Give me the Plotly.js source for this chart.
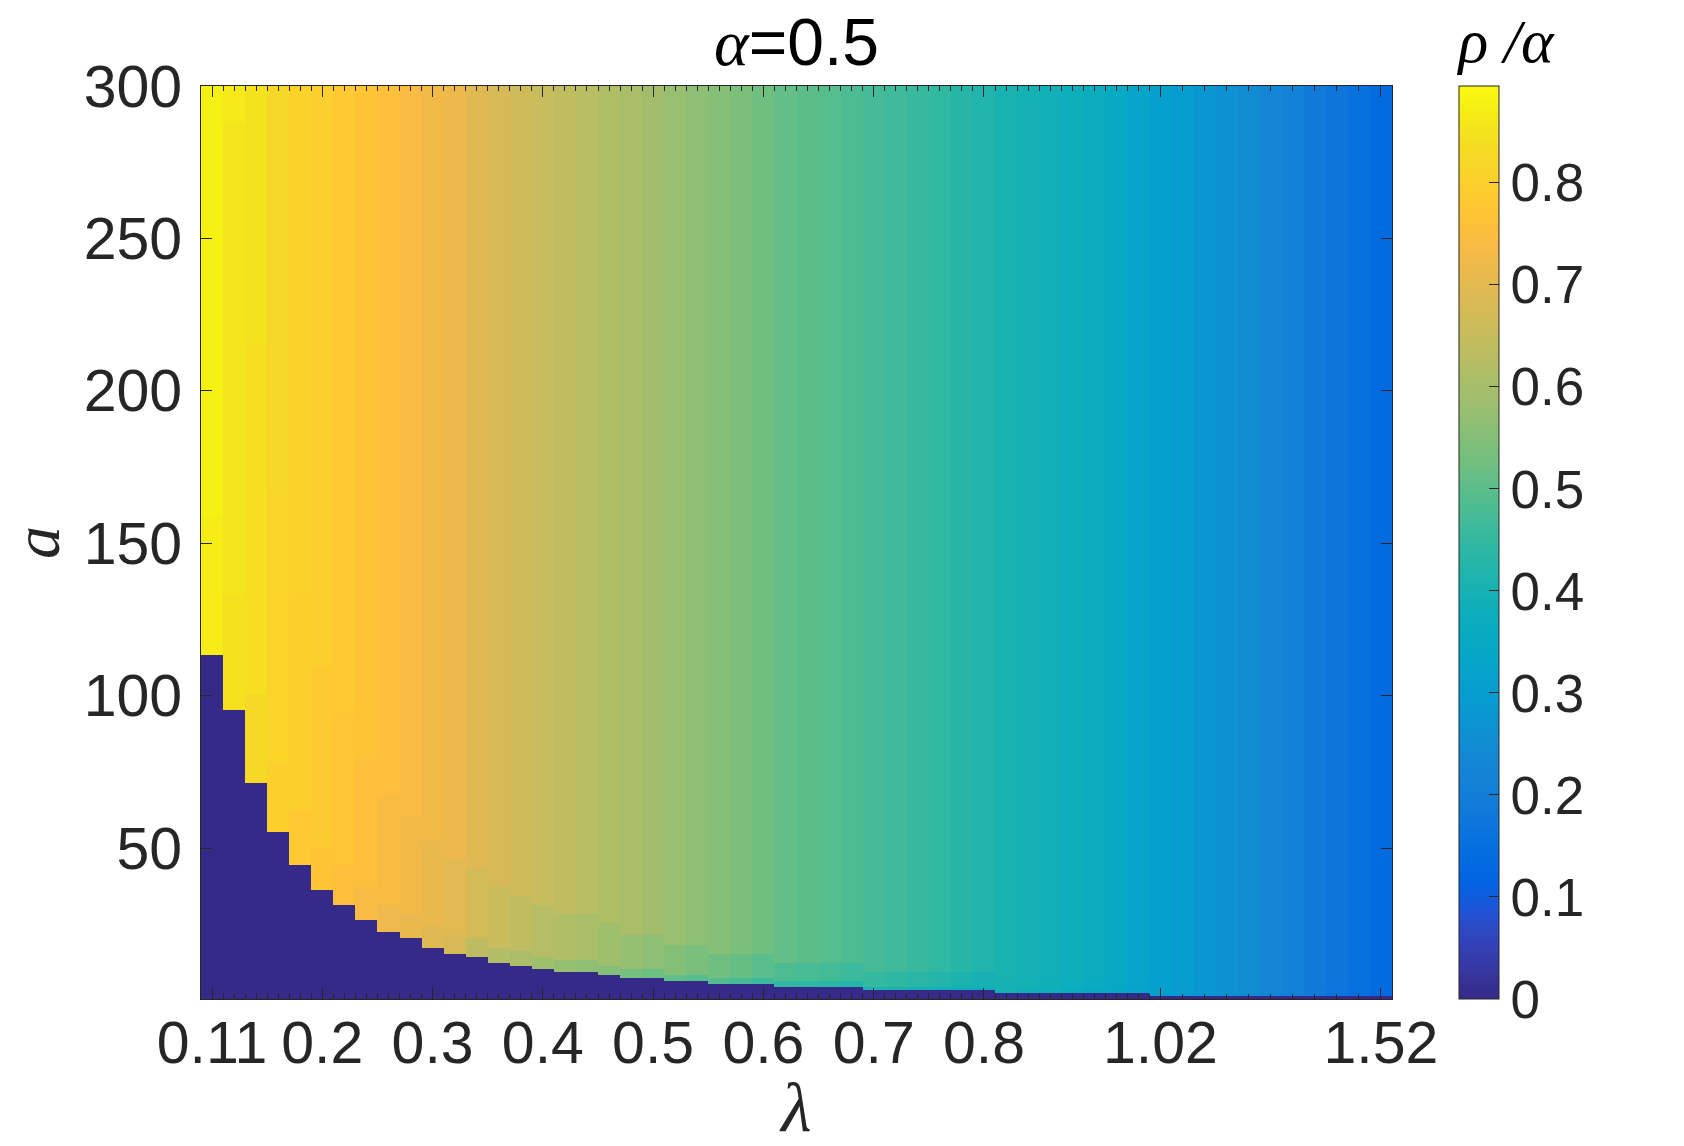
<!DOCTYPE html>
<html>
<head>
<meta charset="utf-8">
<script src="https://cdn.plot.ly/plotly-3.0.1.min.js"></script>
<style>html,body{margin:0;padding:0;background:#fff;}#chart{width:1684px;height:1146px;}</style>
</head>
<body>
<div id="chart"></div>
<script>
// ---- data ----
// lambda grid is drawn by column index; labelled columns:
const lambdaTickCols   = [1, 6, 11, 16, 21, 26, 31, 36, 44, 54];
const lambdaTickLabels = ['0.11','0.2','0.3','0.4','0.5','0.6','0.7','0.8','1.02','1.52'];
const aTicks = [50, 100, 150, 200, 250, 300];
const cbTicks = [0, 0.1, 0.2, 0.3, 0.4, 0.5, 0.6, 0.7, 0.8];
const cbTickLabels = ['0','0.1','0.2','0.3','0.4','0.5','0.6','0.7','0.8'];

// critical a per column (below it rho/alpha = 0)
const aCrit = [113.1, 95.7, 71.8, 55.8, 44.6, 36.4, 31.5, 26.6, 22.4, 20.2,
               17.4, 15.4, 14.4, 12.6, 11.5, 10.5, 9.5, 9.5, 8.4, 7.2,
               7.2, 6.2, 6.2, 5.2, 5.2, 5.2, 4.3, 4.3, 4.3, 4.3,
               3.3, 3.3, 3.3, 3.3, 3.3, 3.3,
               2.3, 2.3, 2.3, 2.3, 2.3, 2.3, 2.3,
               1.3, 1.3, 1.3, 1.3, 1.3, 1.3, 1.3, 1.3, 1.3, 1.3, 1.3];
// rho/alpha far above the critical a
const rhoTop = [0.890, 0.862, 0.848, 0.822, 0.808, 0.797, 0.783, 0.769, 0.755, 0.741,
                0.727, 0.717, 0.695, 0.679, 0.664, 0.651, 0.639, 0.628, 0.614, 0.602,
                0.592, 0.578, 0.565, 0.552, 0.539, 0.524, 0.510, 0.501, 0.494, 0.484,
                0.474, 0.464, 0.455, 0.444, 0.429, 0.417,
                0.407, 0.398, 0.389, 0.381, 0.370, 0.353, 0.332,
                0.314, 0.298, 0.280, 0.264, 0.250, 0.228, 0.210, 0.190, 0.171, 0.156, 0.137];
// rho/alpha in the band somewhat above the critical a
const rhoMid = [0.878, 0.855, 0.840, 0.814, 0.798, 0.786, 0.772, 0.756, 0.742, 0.727,
                0.712, 0.700, 0.671, 0.655, 0.640, 0.625, 0.613, 0.602, 0.588, 0.574,
                0.564, 0.550, 0.537, 0.526, 0.513, 0.498, 0.484, 0.477, 0.470, 0.460,
                0.450, 0.442, 0.433, 0.424, 0.411, 0.401,
                0.401, 0.392, 0.383, 0.375, 0.364, 0.347, 0.326,
                0.310, 0.294, 0.276, 0.260, 0.246, 0.224, 0.206, 0.186, 0.167, 0.152, 0.133];
// rho/alpha just above the critical a
const rhoNear = [0.868, 0.845, 0.825, 0.800, 0.783, 0.770, 0.755, 0.738, 0.722, 0.706,
                 0.690, 0.675, 0.635, 0.619, 0.604, 0.586, 0.574, 0.563, 0.549, 0.532,
                 0.522, 0.508, 0.495, 0.487, 0.474, 0.459, 0.445, 0.441, 0.434, 0.424,
                 0.414, 0.409, 0.400, 0.394, 0.384, 0.377,
                 0.392, 0.383, 0.374, 0.366, 0.355, 0.338, 0.317,
                 0.304, 0.288, 0.270, 0.254, 0.240, 0.218, 0.200, 0.180, 0.161, 0.146, 0.127];

// ---- parula colormap (64 entries) ----
const parula = [[0.2081,0.1663,0.5292],[0.2116,0.1898,0.5777],[0.2123,0.2138,0.6270],[0.2081,0.2386,0.6771],
[0.1959,0.2645,0.7279],[0.1707,0.2919,0.7792],[0.1253,0.3242,0.8303],[0.0591,0.3598,0.8683],
[0.0117,0.3875,0.8820],[0.0060,0.4086,0.8828],[0.0165,0.4266,0.8786],[0.0329,0.4430,0.8720],
[0.0498,0.4586,0.8641],[0.0629,0.4737,0.8554],[0.0723,0.4887,0.8467],[0.0779,0.5040,0.8384],
[0.0793,0.5200,0.8312],[0.0749,0.5375,0.8263],[0.0641,0.5570,0.8240],[0.0488,0.5772,0.8228],
[0.0343,0.5966,0.8199],[0.0265,0.6137,0.8135],[0.0239,0.6287,0.8038],[0.0231,0.6418,0.7913],
[0.0228,0.6535,0.7768],[0.0267,0.6642,0.7607],[0.0384,0.6743,0.7436],[0.0590,0.6838,0.7254],
[0.0843,0.6928,0.7062],[0.1133,0.7015,0.6859],[0.1453,0.7098,0.6646],[0.1801,0.7177,0.6424],
[0.2178,0.7250,0.6193],[0.2586,0.7317,0.5954],[0.3022,0.7376,0.5712],[0.3482,0.7424,0.5473],
[0.3953,0.7459,0.5244],[0.4420,0.7481,0.5033],[0.4871,0.7491,0.4840],[0.5300,0.7491,0.4661],
[0.5709,0.7485,0.4494],[0.6099,0.7473,0.4337],[0.6473,0.7456,0.4188],[0.6834,0.7435,0.4044],
[0.7184,0.7411,0.3905],[0.7525,0.7384,0.3768],[0.7858,0.7356,0.3633],[0.8185,0.7327,0.3498],
[0.8507,0.7299,0.3360],[0.8824,0.7274,0.3217],[0.9139,0.7258,0.3063],[0.9450,0.7261,0.2886],
[0.9739,0.7314,0.2666],[0.9938,0.7455,0.2403],[0.9990,0.7653,0.2164],[0.9955,0.7861,0.1967],
[0.9880,0.8066,0.1794],[0.9789,0.8271,0.1633],[0.9697,0.8481,0.1475],[0.9626,0.8705,0.1309],
[0.9589,0.8949,0.1132],[0.9598,0.9218,0.0948],[0.9661,0.9514,0.0755],[0.9763,0.9831,0.0538]];
const colorscale = parula.map((c, i) => [i / (parula.length - 1),
  'rgb(' + c.map(v => Math.round(v * 255)).join(',') + ')']);

// ---- build the cell table ----
const nCols = aCrit.length;
const colIdx = Array.from({length: nCols}, (_, j) => j + 1);
const aGrid = Array.from({length: 300}, (_, i) => i + 1);
const z = aGrid.map(a => colIdx.map((c, j) => {
  if (a < aCrit[j]) return 0;
  if (a < 1.4 * aCrit[j]) return rhoNear[j];
  if (a < 3 * aCrit[j]) return rhoMid[j];
  return rhoTop[j];
}));

// minor ticks: half-column steps up to column 44, whole columns after
const minorVals = [];
for (let v = 1; v <= 44; v += 0.5) if (!lambdaTickCols.includes(v)) minorVals.push(v);
for (let v = 45; v <= 54; v += 1) if (!lambdaTickCols.includes(v)) minorVals.push(v);

const axCol = '#262626';
const plotH = 1146 - 86 - 147;
const trace = {
  type: 'heatmap', x: colIdx, y: aGrid, z: z,
  zmin: 0, zmax: 0.895, colorscale: colorscale, zsmooth: false,
  hoverinfo: 'skip',
  colorbar: {
    x: 1.0563, xanchor: 'left', xref: 'paper', xpad: 0, ypad: 0,
    y: 0, yanchor: 'bottom', len: plotH + 78, lenmode: 'pixels',
    thickness: 40, thicknessmode: 'pixels',
    outlinewidth: 1, outlinecolor: axCol,
    ticks: 'inside', ticklen: 10, tickwidth: 1, tickcolor: axCol,
    tickmode: 'array', tickvals: cbTicks, ticktext: cbTickLabels,
    tickfont: {family: 'Liberation Sans, Arial, sans-serif', size: 53, color: axCol},
    title: {text: '<i>ρ /α</i>', side: 'top',
            font: {family: 'Liberation Serif, Times New Roman, serif', size: 62, color: '#000'}}
  }
};

const layout = {
  width: 1684, height: 1146,
  margin: {l: 201, r: 292, t: 86, b: 147},
  paper_bgcolor: '#fff', plot_bgcolor: '#fff',
  title: {
    text: '<span style="font-family:Liberation Serif"><i>α</i></span>=0.5',
    font: {family: 'Liberation Sans, Arial, sans-serif', size: 66, color: '#000'},
    x: 0.5, xref: 'paper', xanchor: 'center',
    y: 1 - 42 / 1146, yref: 'container', yanchor: 'middle'
  },
  xaxis: {
    range: [0.5, 54.5], tickmode: 'array', tickvals: lambdaTickCols, ticktext: lambdaTickLabels,
    ticks: 'inside', ticklen: 11, tickwidth: 1, tickcolor: axCol, ticklabelstandoff: -8,
    minor: {tickmode: 'array', tickvals: minorVals, ticks: 'inside', ticklen: 5, tickwidth: 1, tickcolor: axCol, showgrid: false},
    showline: true, linecolor: axCol, linewidth: 1, mirror: 'ticks',
    showgrid: false, zeroline: false,
    tickfont: {family: 'Liberation Sans, Arial, sans-serif', size: 59, color: axCol},
    title: {text: '<i>λ</i>', standoff: 10,
            font: {family: 'Liberation Serif, Times New Roman, serif', size: 70, color: axCol}}
  },
  yaxis: {
    range: [0.5, 300], tickmode: 'array', tickvals: aTicks,
    ticks: 'inside', ticklen: 11, tickwidth: 1, tickcolor: axCol, ticklabelstandoff: 6,
    showline: true, linecolor: axCol, linewidth: 1, mirror: 'ticks',
    showgrid: false, zeroline: false,
    tickfont: {family: 'Liberation Sans, Arial, sans-serif', size: 59, color: axCol},
    title: {text: '<i>a</i>', standoff: 18,
            font: {family: 'Liberation Serif, Times New Roman, serif', size: 66, color: axCol}}
  },
  showlegend: false
};

const gd = document.getElementById('chart');
Plotly.newPlot(gd, [trace], layout, {staticPlot: true, displayModeBar: false}).then(() => {
  // make the colour bar itself span exactly the plot height (title sits above it)
  const bar = gd.querySelector('.colorbar .cbfill') || gd.querySelector('.colorbar rect.cbbg');
  if (bar) {
    const b = bar.getBoundingClientRect();
    const topWanted = 86, botWanted = 86 + plotH;
    const extra = (b.top - topWanted) + (botWanted - b.bottom);
    if (Math.abs(extra) > 0.5) {
      return Plotly.restyle(gd, {'colorbar.len': plotH + 78 + extra}, [0]);
    }
  }
});
</script>
</body>
</html>
